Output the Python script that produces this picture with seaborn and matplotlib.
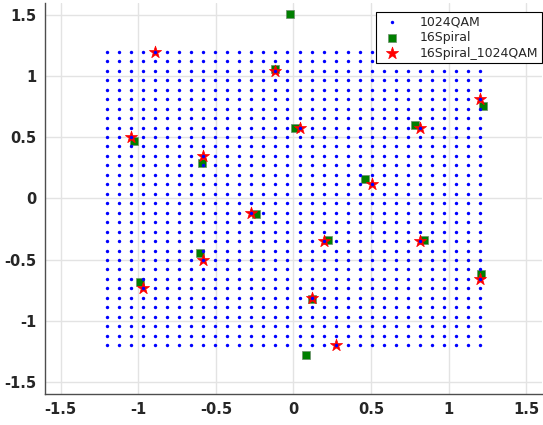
import numpy as np
import pandas as pd
import seaborn as sns
import matplotlib.pyplot as plt

# 1024QAM grid levels (32 per axis)
qam_levels = [-1.2, -1.1226, -1.0452, -0.9677, -0.8903, -0.8129, -0.7355, -0.6581,
              -0.5806, -0.5032, -0.4258, -0.3484, -0.2710, -0.1935, -0.1161, -0.0387,
              0.0387, 0.1161, 0.1935, 0.2710, 0.3484, 0.4258, 0.5032, 0.5806,
              0.6581, 0.7355, 0.8129, 0.8903, 0.9677, 1.0452, 1.1226, 1.2]

# 16Spiral constellation
spiral_x = [-0.02, -0.12, 0.01, 0.78, 1.22, 0.46, -1.03, -0.59,
            -0.24, -0.99, -0.60, 0.22, 0.84, 1.21, 0.12, 0.08]
spiral_y = [1.51, 1.06, 0.58, 0.60, 0.76, 0.16, 0.47, 0.29,
            -0.13, -0.68, -0.45, -0.34, -0.34, -0.62, -0.82, -1.28]

# 16Spiral mapped to nearest 1024QAM point
mapped_x = [-0.8903, -0.1161, 0.0387, 0.8129, 1.2, 0.5032, -1.0452, -0.5806,
            -0.2710, -0.9677, -0.5806, 0.1935, 0.8129, 1.2, 0.1161, 0.2710]
mapped_y = [1.2, 1.0452, 0.5806, 0.5806, 0.8129, 0.1161, 0.5032, 0.3484,
            -0.1161, -0.7355, -0.5032, -0.3484, -0.3484, -0.6581, -0.8129, -1.2]

gx, gy = np.meshgrid(qam_levels, qam_levels)
qam = pd.DataFrame({'I': gx.ravel(), 'Q': gy.ravel()})
spiral = pd.DataFrame({'I': spiral_x, 'Q': spiral_y})
mapped = pd.DataFrame({'I': mapped_x, 'Q': mapped_y})

sns.set_style('whitegrid')
plt.rcParams['font.family'] = ['DejaVu Sans']

fig = plt.figure(figsize=(5.43, 4.25), dpi=100)
ax = fig.add_axes([0.083, 0.073, 0.915, 0.92])

# blue grid dots sit on top of the other markers
sns.scatterplot(data=qam, x='I', y='Q', ax=ax, color='blue', marker='o', s=6,
                linewidth=0, label='1024QAM', zorder=5)
sns.scatterplot(data=spiral, x='I', y='Q', ax=ax, color='#007f00', marker='s', s=40,
                edgecolor='#6f8f6f', linewidth=0.5, label='16Spiral', zorder=3)
sns.scatterplot(data=mapped, x='I', y='Q', ax=ax, color='red', marker='*', s=85,
                edgecolor='red', linewidth=0.5, label='16Spiral_1024QAM', zorder=4)

ax.set_xlim(-1.6, 1.6)
ax.set_ylim(-1.6, 1.6)
ax.set_xticks([-1.5, -1, -0.5, 0, 0.5, 1, 1.5])
ax.set_yticks([-1.5, -1, -0.5, 0, 0.5, 1, 1.5])
ax.set_xticklabels(['-1.5', '-1', '-0.5', '0', '0.5', '1', '1.5'])
ax.set_yticklabels(['-1.5', '-1', '-0.5', '0', '0.5', '1', '1.5'])
ax.set_xlabel('')
ax.set_ylabel('')
ax.grid(True, color='#e3e3e3', linewidth=1)
ax.set_axisbelow(True)
for side in ['top', 'right']:
    ax.spines[side].set_visible(False)
for side in ['left', 'bottom']:
    ax.spines[side].set_color('#4d4d4d')
    ax.spines[side].set_linewidth(1)
ax.tick_params(direction='in', length=4, width=1, color='#4d4d4d',
               labelsize=10.5, labelcolor='#262626', pad=6)
for lab in ax.get_xticklabels() + ax.get_yticklabels():
    lab.set_fontweight('bold')

leg = ax.legend(loc='upper right', bbox_to_anchor=(1.0, 0.977), borderaxespad=0,
                fancybox=False, edgecolor='black', framealpha=1, fontsize=9,
                handletextpad=1.2, borderpad=0.3, labelspacing=0.2)
leg.get_frame().set_linewidth(0.8)
leg.set_zorder(10)

fig.savefig('out.png', dpi=100)
